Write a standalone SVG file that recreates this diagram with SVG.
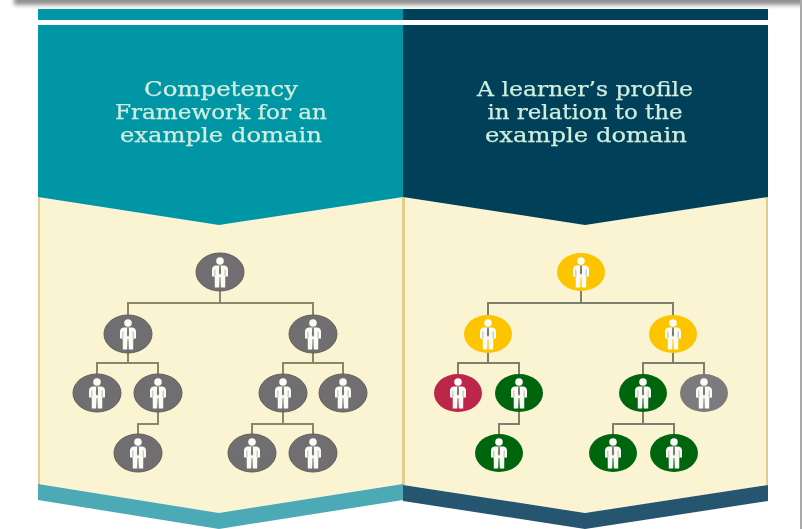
<svg xmlns="http://www.w3.org/2000/svg" width="802" height="529" viewBox="0 0 802 529">
<style>
.t{font-family:"DejaVu Serif","Liberation Serif",serif;font-size:21px;fill:#cfeede;stroke:#cfeede;stroke-width:.25;text-anchor:middle}
.c{fill:none;stroke:#8a8668;stroke-width:2}
.d{fill:none;stroke:#7f7f70;stroke-width:2}
.g{fill:#6f6e70;stroke:#5f5f58;stroke-width:1}.y{fill:#fdc500}.r{fill:#bb2649}.n{fill:#046611}.m{fill:#7b7a7c}
.p{fill:#fbfbf6}.k{fill:#77776c}
</style>
<defs>
<filter id="b" x="-5%" y="-100%" width="110%" height="300%"><feGaussianBlur stdDeviation="2"/></filter>
<filter id="s" x="-2%" y="-2%" width="104%" height="104%"><feGaussianBlur stdDeviation="0.6"/></filter>
<g id="man">
<circle cx="0" cy="-11" r="3.8" class="p"/>
<path class="p" d="M-4.500-6.500H4.500Q7.800-6 8-2.500V4.500H5.300L5.200 15.500H.8L.4 5H-.4L-.8 15.500H-5.200L-5.300 4.500H-8V-2.500Q-7.800-6-4.500-6.500Z"/>
<path class="k" d="M-.8-6.500H.8L1.100 1 0 3-1.100 1Z"/>
<path d="M-5.200-2.500L-5.100 4M5.200-2.500L5.100 4" stroke="#9a9a94" stroke-width=".7" fill="none"/>
</g>
</defs>
<rect width="802" height="529" fill="#fff"/>
<rect x="14" y="-4" width="800" height="9" fill="#8f8f8f" filter="url(#b)"/>
<rect x="800" y="0" width="2" height="529" fill="#a8a8a8"/>
<g filter="url(#s)">
<g id="panel-left">
<rect x="38" y="9" width="365" height="11" fill="#0096a6"/>
<polygon points="38,195 403,195 403,484 219,513 38,484" fill="#faf4d3"/>
<path d="M39 197V485M403 197V485" stroke="#e2cf8f" stroke-width="2" fill="none"/>
<polygon points="38,25 403,25 403,197 219,225 38,197" fill="#0096a6"/>
<polygon points="38,484 219,513 403,484 403,500 219,529 38,500" fill="#4baab5"/>
<text class="t" x="221" y="96" textLength="154" lengthAdjust="spacingAndGlyphs">Competency</text>
<text class="t" x="221" y="119" textLength="212" lengthAdjust="spacingAndGlyphs">Framework for an</text>
<text class="t" x="221" y="142" textLength="202" lengthAdjust="spacingAndGlyphs">example domain</text>
</g>
<g id="panel-right">
<rect x="403" y="9" width="365" height="11" fill="#024059"/>
<polygon points="403,195 768,195 768,485 585,513 403,485" fill="#faf4d3"/>
<path d="M404 197V485M767 197V485" stroke="#e2cf8f" stroke-width="2" fill="none"/>
<polygon points="403,25 768,25 768,197 585,225 403,197" fill="#024059"/>
<polygon points="403,485 585,513 768,485 768,501 585,529 403,501" fill="#27546f"/>
<text class="t" x="585" y="96" textLength="216" lengthAdjust="spacingAndGlyphs">A learner’s profile</text>
<text class="t" x="585" y="119" textLength="195" lengthAdjust="spacingAndGlyphs">in relation to the</text>
<text class="t" x="586" y="142" textLength="202" lengthAdjust="spacingAndGlyphs">example domain</text>
</g>
<g id="connectors">
<path class="c" d="M220 290V303M128 316V303H313V316M128 352V363M97 376V363H158V376M313 352V363M283 376V363H343V376M158 411V424H138V436M283 411V424M252 436V424H313V436"/>
<path class="d" d="M581 290V303M488 316V303H673V316M488 352V363M458 376V363H519V376M673 352V363M643 376V363H704V376M519 411V424H499V436M643 411V424M613 436V424H674V436"/>
</g>
<g id="n1"><ellipse class="g" cx="220" cy="272" rx="24" ry="19"/><use href="#man" x="220" y="272"/></g>
<g id="n2"><ellipse class="g" cx="128" cy="334" rx="24" ry="19"/><use href="#man" x="128" y="334"/></g>
<g id="n3"><ellipse class="g" cx="313" cy="334" rx="24" ry="19"/><use href="#man" x="313" y="334"/></g>
<g id="n4"><ellipse class="g" cx="97" cy="393" rx="24" ry="19"/><use href="#man" x="97" y="393"/></g>
<g id="n5"><ellipse class="g" cx="158" cy="393" rx="24" ry="19"/><use href="#man" x="158" y="393"/></g>
<g id="n6"><ellipse class="g" cx="283" cy="393" rx="24" ry="19"/><use href="#man" x="283" y="393"/></g>
<g id="n7"><ellipse class="g" cx="343" cy="393" rx="24" ry="19"/><use href="#man" x="343" y="393"/></g>
<g id="n8"><ellipse class="g" cx="138" cy="453" rx="24" ry="19"/><use href="#man" x="138" y="453"/></g>
<g id="n9"><ellipse class="g" cx="252" cy="453" rx="24" ry="19"/><use href="#man" x="252" y="453"/></g>
<g id="n10"><ellipse class="g" cx="313" cy="453" rx="24" ry="19"/><use href="#man" x="313" y="453"/></g>
<g id="m1"><ellipse class="y" cx="581" cy="272" rx="24" ry="19"/><use href="#man" x="581" y="272"/></g>
<g id="m2"><ellipse class="y" cx="488" cy="334" rx="24" ry="19"/><use href="#man" x="488" y="334"/></g>
<g id="m3"><ellipse class="y" cx="673" cy="334" rx="24" ry="19"/><use href="#man" x="673" y="334"/></g>
<g id="m4"><ellipse class="r" cx="458" cy="393" rx="24" ry="19"/><use href="#man" x="458" y="393"/></g>
<g id="m5"><ellipse class="n" cx="519" cy="393" rx="24" ry="19"/><use href="#man" x="519" y="393"/></g>
<g id="m6"><ellipse class="n" cx="643" cy="393" rx="24" ry="19"/><use href="#man" x="643" y="393"/></g>
<g id="m7"><ellipse class="m" cx="704" cy="393" rx="24" ry="19"/><use href="#man" x="704" y="393"/></g>
<g id="m8"><ellipse class="n" cx="499" cy="453" rx="24" ry="19"/><use href="#man" x="499" y="453"/></g>
<g id="m9"><ellipse class="n" cx="613" cy="453" rx="24" ry="19"/><use href="#man" x="613" y="453"/></g>
<g id="m10"><ellipse class="n" cx="674" cy="453" rx="24" ry="19"/><use href="#man" x="674" y="453"/></g>
</g>
</svg>
